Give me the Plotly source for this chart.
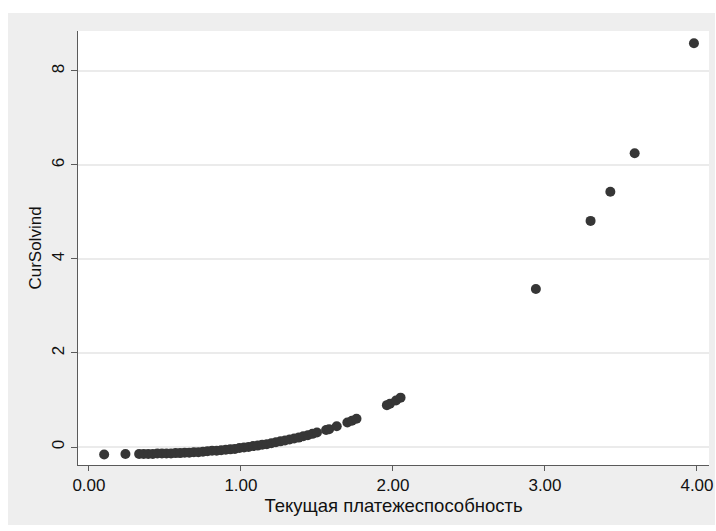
import plotly.graph_objects as go

# Current solvency ratio (x) vs CurSolvind (y)
ratio = [0.10, 0.24,
         0.33, 0.36, 0.39, 0.42, 0.45, 0.48, 0.51, 0.54, 0.57, 0.60,
         0.63, 0.66, 0.69, 0.72, 0.75, 0.78, 0.81, 0.84, 0.87, 0.90,
         0.93, 0.96, 0.99, 1.02, 1.05, 1.08, 1.11, 1.14, 1.17, 1.20,
         1.23, 1.26, 1.29, 1.32, 1.35, 1.38, 1.41, 1.44, 1.47,
         1.50, 1.56, 1.58, 1.63, 1.70, 1.73, 1.76,
         1.96, 1.98, 2.02, 2.05,
         2.94, 3.30, 3.43, 3.59, 3.98]
cursolvind = [-0.16, -0.15,
              -0.15, -0.15, -0.15, -0.15, -0.14, -0.14, -0.14, -0.14, -0.13, -0.13,
              -0.12, -0.12, -0.11, -0.11, -0.10, -0.09, -0.08, -0.08, -0.07, -0.06,
              -0.05, -0.04, -0.02, -0.01, 0.00, 0.02, 0.03, 0.05, 0.06, 0.08,
              0.10, 0.12, 0.14, 0.16, 0.18, 0.20, 0.23, 0.25, 0.28,
              0.31, 0.36, 0.38, 0.44, 0.52, 0.56, 0.60,
              0.89, 0.92, 0.99, 1.05,
              3.36, 4.81, 5.43, 6.25, 8.59]

x_ticks = [0, 1, 2, 3, 4]
x_tick_labels = ["0.00", "1.00", "2.00", "3.00", "4.00"]
y_ticks = [0, 2, 4, 6, 8]

x_title = "Текущая платежеспособность"
y_title = "CurSolvind"

fig = go.Figure()
fig.add_trace(go.Scatter(
    x=ratio, y=cursolvind, mode="markers",
    marker=dict(color="#363636", size=10, line=dict(width=0)),
    showlegend=False,
))

gray = "#eeeeee"
# gray graph region around the white plot area (as bands so the plot stays white)
bands = [
    dict(x0=-0.111, x1=0.0, y0=-0.138, y1=1.0415),
    dict(x0=1.0, x1=1.0095, y0=-0.138, y1=1.0415),
    dict(x0=0.0, x1=1.0, y0=1.0, y1=1.0415),
    dict(x0=0.0, x1=1.0, y0=-0.138, y1=0.0),
]
for b in bands:
    fig.add_shape(type="rect", xref="paper", yref="paper", layer="below",
                  fillcolor=gray, line=dict(width=0), **b)

family = "Liberation Sans, Arial, sans-serif"
font = dict(family=family, size=17, color="#111111")

fig.update_layout(
    width=716, height=531,
    margin=dict(l=78, r=7, t=31, b=66),
    paper_bgcolor="white", plot_bgcolor="white",
    font=font,
    xaxis=dict(
        range=[-0.072, 4.079], tickvals=x_ticks, ticktext=x_tick_labels,
        showgrid=False, zeroline=False,
        showline=True, linecolor="#5a5a5a", linewidth=1,
        ticks="outside", ticklen=5, tickcolor="#5a5a5a",
        title=dict(text=x_title, standoff=2,
                   font=dict(family=family, size=18.5, color="#111111")),
        automargin=False,
    ),
    yaxis=dict(
        range=[-0.383, 8.85], tickvals=y_ticks, tickangle=-90,
        showgrid=True, gridcolor="#ebebeb", gridwidth=1.5, zeroline=False,
        showline=True, linecolor="#5a5a5a", linewidth=1,
        ticks="outside", ticklen=6, tickcolor="#5a5a5a",
        title=dict(text=y_title, standoff=3, font=font),
        automargin=False,
    ),
)

fig.write_html("out.html", config={"displayModeBar": False},
               post_script="document.body.style.margin='0px';")
